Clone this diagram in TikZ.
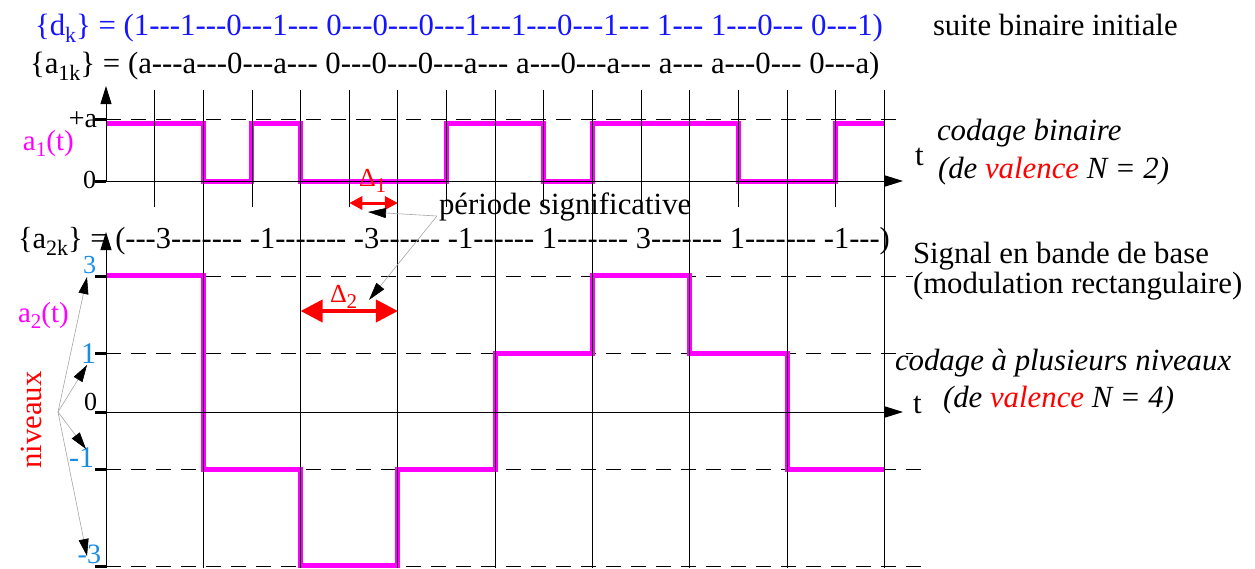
\documentclass[tikz,border=0pt]{standalone}
\usepackage{fontspec}
\setmainfont{Liberation Serif}[Ligatures=TeXOff]
\newcommand\tnr{\rmfamily}
\usetikzlibrary{arrows.meta}
\definecolor{lvlblue}{RGB}{25,140,230}
\definecolor{seqblue}{RGB}{20,20,255}
\definecolor{mag}{RGB}{255,0,255}
\newcommand\fs[1]{\fontsize{#1}{#1}\selectfont}
\newcommand\sbx[3]{\raisebox{-#2pt}{\fs{#1}#3}}
\begin{document}
\begin{tikzpicture}[x=1pt,y=-1pt,
  txt/.style={inner sep=0pt,outer sep=0pt,font=\tnr\fs{30.8}},
  lbl/.style={inner sep=0pt,outer sep=0pt,font=\tnr\fs{26}},
  gridl/.style={black,line width=0.9pt},
  sig/.style={mag,line width=5pt,line join=miter},
  dsh/.style={black,line width=0.9pt,dash pattern=on 15pt off 10pt},
  tickm/.style={black,line width=3pt},
  axis/.style={black,line width=1pt,-{Triangle[length=18pt,width=11pt]}},
  lead/.style={gray!70,line width=0.6pt,-{Triangle[length=18pt,width=10pt,color=black]}},
  delta/.style={red,{Triangle[length=#1pt,width=#1pt]}-{Triangle[length=#1pt,width=#1pt]}},
]
\useasboundingbox (0,0) rectangle (1255,568);
% dashed level lines
\draw[dsh] (106,119) -- (903,119);
\draw[dsh] (106,276) -- (913,276);
\draw[dsh] (106,353) -- (913,353);
\draw[dsh] (106,469) -- (922,469);
\draw[dsh] (106,566) -- (922,566);
% signals
\draw[sig] (106,123) -- ({106+48.65*2},123) -- ({106+48.65*2},181) -- ({106+48.65*3},181)
  -- ({106+48.65*3},123) -- ({106+48.65*4},123) -- ({106+48.65*4},181) -- ({106+48.65*7},181)
  -- ({106+48.65*7},123) -- ({106+48.65*9},123) -- ({106+48.65*9},181) -- ({106+48.65*10},181)
  -- ({106+48.65*10},123) -- ({106+48.65*13},123) -- ({106+48.65*13},181) -- ({106+48.65*15},181)
  -- ({106+48.65*15},123) -- ({106+48.65*16},123);
\draw[sig] (106,275) -- ({106+48.65*2},275) -- ({106+48.65*2},469) -- ({106+48.65*4},469)
  -- ({106+48.65*4},565) -- ({106+48.65*6},565) -- ({106+48.65*6},469) -- ({106+48.65*8},469)
  -- ({106+48.65*8},353) -- ({106+48.65*10},353) -- ({106+48.65*10},275) -- ({106+48.65*12},275)
  -- ({106+48.65*12},353) -- ({106+48.65*14},353) -- ({106+48.65*14},469) -- ({106+48.65*16},469);
% grid
\foreach \k in {1,3,...,15} \draw[gridl] ({106+48.65*\k},90) -- ({106+48.65*\k},207);
\foreach \k in {2,4,...,16} \draw[gridl] ({106+48.65*\k},90) -- ({106+48.65*\k},568);
% axes
\draw[axis] (106,181) -- (106,86);
\draw[axis] (106,181) -- (903,181);
\draw[axis] (106,568) -- (106,232);
\draw[axis] (106,412) -- (903,412);
% ticks
\foreach \y in {119,181,276,353,412,469,566} \draw[tickm] (95,\y) -- (106,\y);
% sequences
\node[txt,anchor=base west,text=seqblue] (dk) at (35,35)
  {\{d\sbx{22}{7}{k}\} = (1---1---0---1--- 0---0---0---1---1---0---1--- 1--- 1---0--- 0---1)};
\node[txt,anchor=base west] (a1k) at (30,73)
  {\{a\sbx{22}{7}{1k}\} = (a---a---0---a--- 0---0---0---a--- a---0---a--- a--- a---0--- 0---a)};
\node[txt,anchor=base west,font=\tnr\fs{30.5}] (a2k) at (18,248)
  {\{a\sbx{22}{7}{2k}\} = (---3------- -1------- -3------ -1------ 1------- 3------- 1------- -1---)};
\node[txt,anchor=base west] (suite) at (933,35) {suite binaire initiale};
% top plot labels
\node[lbl,anchor=base east,font=\tnr\fs{28}] (pa) at (97,127) {+a};
\node[lbl,anchor=base east] (z1) at (96,188) {0};
\node[lbl,anchor=base west,text=mag,font=\tnr\fs{29}] (a1t) at (23,150) {a\sbx{21}{6}{1}(t)};
\node[txt,anchor=base west] (t1) at (915,165) {t};
\node[txt,anchor=base west,font=\tnr\itshape\fs{30.8}] (cb) at (937,140) {codage binaire};
\node[txt,anchor=base west,font=\tnr\itshape\fs{30.8}] (v2) at (938,178) {(de \textcolor{red}{valence} N = 2)};
% deltas
\node[lbl,anchor=base west,text=red,font=\tnr\fs{26}] (d1) at (359,186) {Δ\sbx{21}{6}{1}};
\coordinate (d1l) at ({106+48.65*5},203);
\coordinate (d1r) at ({106+48.65*6},203);
\draw[delta=13,line width=3pt] (d1l) -- (d1r);
\node[lbl,anchor=base west,text=red,font=\tnr\fs{26}] (d2) at (330,302) {Δ\sbx{21}{6}{2}};
\coordinate (d2l) at ({106+48.65*4},311);
\coordinate (d2r) at ({106+48.65*6},311);
\draw[delta=22,line width=4pt] (d2l) -- (d2r);
\node[txt,anchor=base west] (per) at (439,214) {période significative};
\coordinate (ps) at (437,216);
\coordinate (pt1) at (368,212);
\coordinate (pt2) at (369,300);
\draw[lead] (ps) -- (pt1);
\draw[lead] (ps) -- (pt2);
% bottom plot labels
\node[lbl,anchor=base west,text=mag,font=\tnr\fs{29}] (a2t) at (18,322) {a\sbx{21}{6}{2}(t)};
\node[lbl,anchor=base east,text=lvlblue,font=\tnr\fs{26}] (l3) at (96,273) {3};
\node[lbl,anchor=base east,text=lvlblue,font=\tnr\fs{30}] (l1) at (96,363) {1};
\node[lbl,anchor=base east] (l0) at (97,410) {0};
\node[lbl,anchor=base east,text=lvlblue,font=\tnr\fs{30}] (lm1) at (94,467) {-1};
\node[lbl,anchor=base east,text=lvlblue,font=\tnr\fs{28}] (lm3) at (101,563) {-3};
\node[txt,rotate=90,text=red] (niv) at (31,420) {niveaux};
\coordinate (nv) at (58,412);
\draw[lead,-{Triangle[length=17pt,width=10pt,color=black]}] (nv) -- (87,277);
\draw[lead,-{Triangle[length=17pt,width=10pt,color=black]}] (nv) -- (87,365);
\draw[lead,-{Triangle[length=17pt,width=10pt,color=black]}] (nv) -- (86,449);
\draw[lead,-{Triangle[length=17pt,width=10pt,color=black]}] (nv) -- (87,556);
\node[txt,anchor=base west] (t2) at (913,413) {t};
\node[txt,anchor=base west] (sb) at (913,263) {Signal en bande de base};
\node[txt,anchor=base west] (mr) at (913,293) {(modulation rectangulaire)};
\node[txt,anchor=base west,font=\tnr\itshape\fs{30.8}] (cp) at (895,370) {codage à plusieurs niveaux};
\node[txt,anchor=base west,font=\tnr\itshape\fs{30.8}] (v4) at (943,407) {(de \textcolor{red}{valence} N = 4)};
\end{tikzpicture}
\end{document}
